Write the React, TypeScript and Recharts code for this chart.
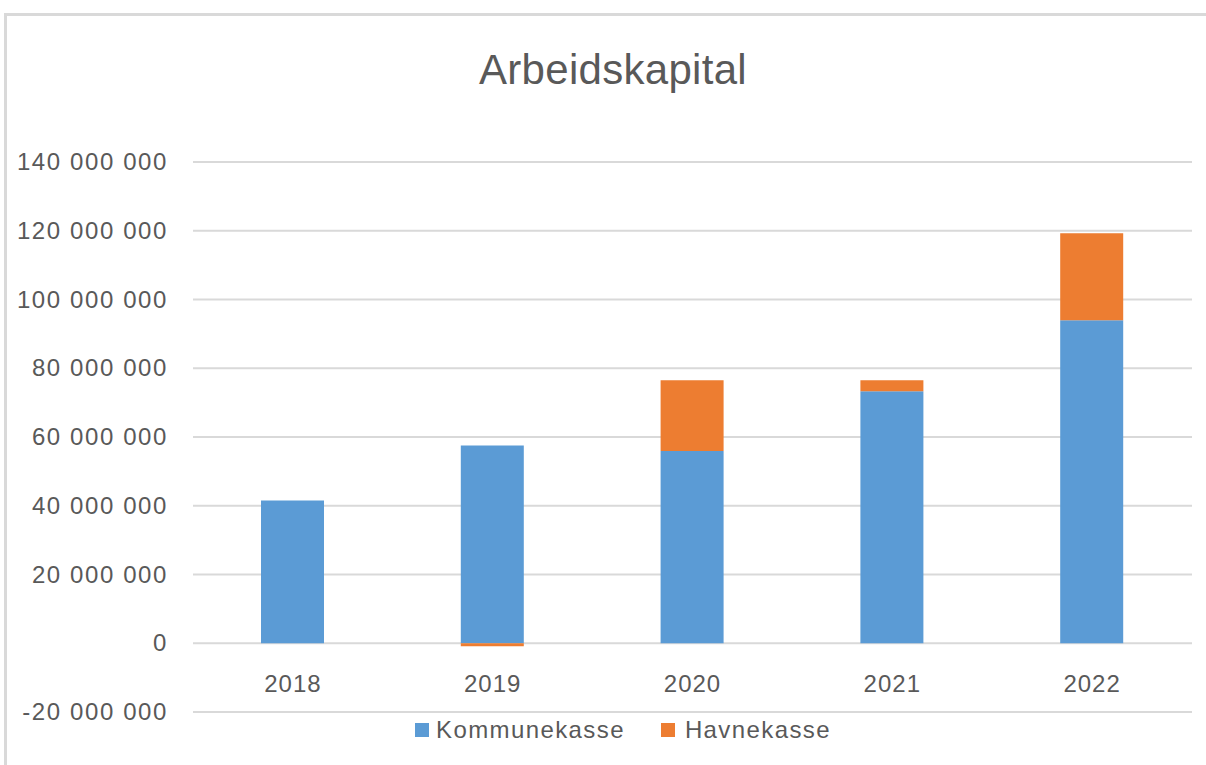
import { Bar, BarChart, CartesianGrid, XAxis, YAxis } from 'recharts'

const years = ['2018', '2019', '2020', '2021', '2022']
const kommunekasse = [41500000, 57500000, 55900000, 73300000, 94000000]
const havnekasse = [0, -900000, 20600000, 3200000, 25300000]
const yTicks = [-20000000, 0, 20000000, 40000000, 60000000, 80000000, 100000000, 120000000, 140000000]

const data = years.map((year, i) => ({ year, kommunekasse: kommunekasse[i], havnekasse: havnekasse[i] }))

const textColor = '#595959'
const font = '"Liberation Sans", Arial, sans-serif'

const fmt = (v: number) => {
  const s = Math.abs(v).toString().replace(/\B(?=(\d{3})+(?!\d))/g, ' ')
  return (v < 0 ? '-' : '') + s
}

const XTick = ({ x, y, payload }: any) => (
  <text x={x} y={y - 22} textAnchor="middle" fill={textColor} fontSize={24} fontFamily={font} letterSpacing={1}>
    {payload.value}
  </text>
)

const YTick = ({ x, y, payload }: any) => (
  <text x={x} y={y + 8} textAnchor="end" fill={textColor} fontSize={24} fontFamily={font} letterSpacing={1.6}>
    {fmt(payload.value)}
  </text>
)

export default function App() {
  return (
    <div style={{ position: 'absolute', left: 0, top: 0, width: 1206, height: 765, overflow: 'hidden', background: '#fff', fontFamily: font }}>
      <div style={{ position: 'absolute', left: 4, top: 13, width: 1300, height: 900, borderTop: '3px solid #d9d9d9', borderLeft: '3px solid #d9d9d9' }} />
      <div style={{ position: 'absolute', left: 10, top: 49, width: 1206, textAlign: 'center', fontSize: 42, lineHeight: '42px', color: textColor, letterSpacing: 0.3 }}>
        Arbeidskapital
      </div>
      <div style={{ position: 'absolute', left: 0, top: 0 }}>
        <BarChart width={1206} height={765} data={data} stackOffset="sign" margin={{ top: 162, right: 14, left: 0, bottom: 23 }}>
          <CartesianGrid vertical={false} stroke="#d9d9d9" strokeWidth={2} />
          <XAxis dataKey="year" axisLine={false} tickLine={false} tickSize={0} tickMargin={2} tick={<XTick />} height={30} />
          <YAxis
            width={193}
            domain={[-20000000, 140000000]}
            ticks={yTicks}
            axisLine={false}
            tickLine={false}
            tickSize={0}
            tickMargin={25}
            tick={<YTick />}
            interval={0}
          />
          <Bar dataKey="kommunekasse" stackId="a" fill="#5b9bd5" barSize={63} isAnimationActive={false} />
          <Bar dataKey="havnekasse" stackId="a" fill="#ed7d31" barSize={63} isAnimationActive={false} />
        </BarChart>
      </div>
      <div style={{ position: 'absolute', top: 716, left: 415, display: 'flex', alignItems: 'center', fontSize: 24, color: textColor, lineHeight: '28px', letterSpacing: 1.4 }}>
        <span style={{ width: 14, height: 14, background: '#5b9bd5', marginRight: 7 }} />
        <span style={{ marginRight: 36 }}>Kommunekasse</span>
        <span style={{ width: 14, height: 14, background: '#ed7d31', marginRight: 10 }} />
        <span>Havnekasse</span>
      </div>
    </div>
  )
}
